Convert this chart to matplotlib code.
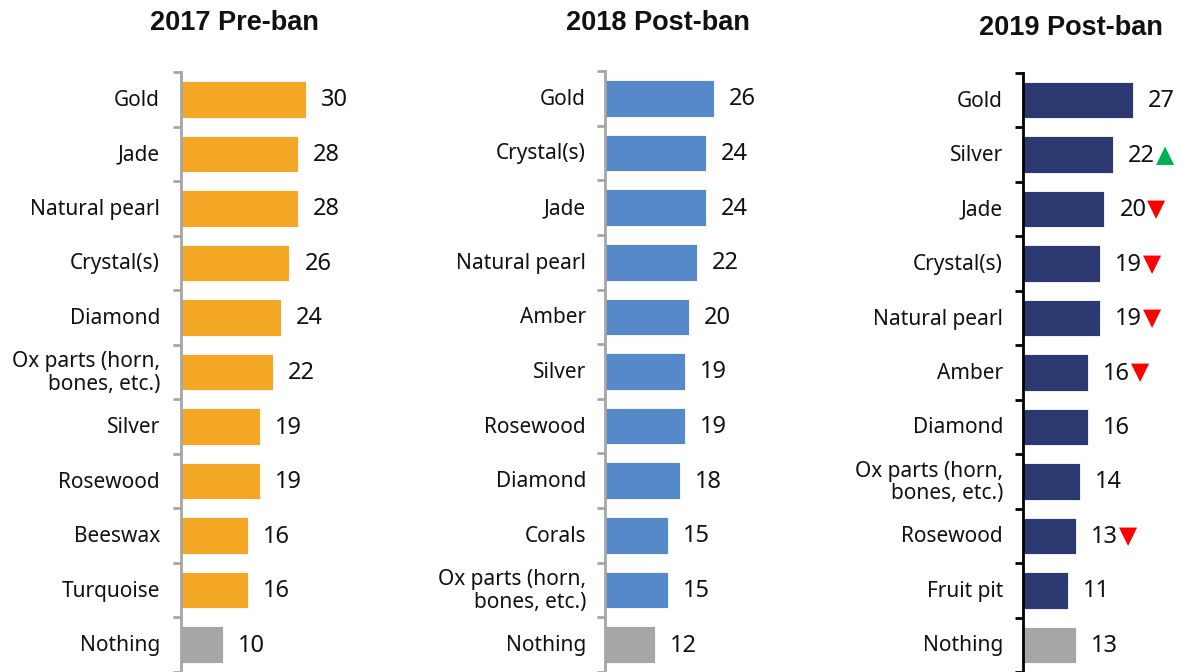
import matplotlib
matplotlib.use("Agg")
import matplotlib.pyplot as plt

plt.rcParams['font.family'] = ['Noto Sans', 'DejaVu Sans']

titles = ["2017 Pre-ban", "2018 Post-ban", "2019 Post-ban"]

cats_2017 = ["Gold", "Jade", "Natural pearl", "Crystal(s)", "Diamond",
             "Ox parts (horn,\nbones, etc.)", "Silver", "Rosewood", "Beeswax",
             "Turquoise", "Nothing"]
vals_2017 = [30, 28, 28, 26, 24, 22, 19, 19, 16, 16, 10]

cats_2018 = ["Gold", "Crystal(s)", "Jade", "Natural pearl", "Amber", "Silver",
             "Rosewood", "Diamond", "Corals", "Ox parts (horn,\nbones, etc.)",
             "Nothing"]
vals_2018 = [26, 24, 24, 22, 20, 19, 19, 18, 15, 15, 12]

cats_2019 = ["Gold", "Silver", "Jade", "Crystal(s)", "Natural pearl", "Amber",
             "Diamond", "Ox parts (horn,\nbones, etc.)", "Rosewood",
             "Fruit pit", "Nothing"]
vals_2019 = [27, 22, 20, 19, 19, 16, 16, 14, 13, 11, 13]
# change vs previous year: 1 up, -1 down, 0 none
trend_2019 = [0, 1, -1, -1, -1, -1, 0, 0, -1, 0, 0]

W, H = 1181, 672
fig = plt.figure(figsize=(W / 100, H / 100), dpi=100)

colors = ["#F4A725", "#5589C9", "#2B3970"]
gray = "#A6A6A6"
spine_colors = ["#A6A6A6", "#A6A6A6", "#000000"]

panels = [
    (cats_2017, vals_2017, None, 181, 72, 4.17, 160, (234, 23)),
    (cats_2018, vals_2018, None, 605, 71, 4.19, 586, (658, 23)),
    (cats_2019, vals_2019, trend_2019, 1023, 73, 4.07, 1003, (1071, 28)),
]

for i, (cats, vals, trend, x0, ytop, pxu, lab_x, tpos) in enumerate(panels):
    xmax = 40
    ax = fig.add_axes([x0 / W, 0, xmax * pxu / W, (H - ytop) / H])
    n = len(cats)
    ypos = list(range(n))
    bar_colors = [colors[i]] * (n - 1) + [gray]
    ax.barh(ypos, vals, height=0.67, color=bar_colors, edgecolor="white",
            linewidth=0.6)
    ax.set_ylim(n - 0.5, -0.5)
    ax.set_xlim(0, xmax)
    for s in ["top", "right", "bottom"]:
        ax.spines[s].set_visible(False)
    ax.spines["left"].set_color(spine_colors[i])
    ax.spines["left"].set_linewidth(2)
    ax.set_xticks([])
    ax.set_yticks([k - 0.5 for k in range(n + 1)])
    ax.set_yticklabels([])
    ax.tick_params(axis="y", length=6, width=2, color=spine_colors[i],
                   direction="out")
    for k, (c, v) in enumerate(zip(cats, vals)):
        ax.annotate(c, xy=(0, k), xytext=(-(x0 - lab_x), -1),
                    textcoords="offset pixels", ha="right", va="center",
                    fontsize=15, color="#111111", linespacing=1.1)
        ax.annotate(str(v), xy=(v, k), xytext=(15, -1),
                    textcoords="offset pixels", ha="left", va="center",
                    fontsize=17, color="#111111")
        if trend is not None and trend[k] != 0:
            mk = "▲" if trend[k] > 0 else "▼"
            col = "#00B050" if trend[k] > 0 else "#FF0000"
            ax.annotate(mk, xy=(v, k), xytext=(43, 0),
                        textcoords="offset pixels", ha="left", va="center",
                        fontsize=17, color=col, family="DejaVu Sans")
    fig.text(tpos[0] / W, 1 - tpos[1] / H, titles[i], ha="center",
             va="center", fontsize=19.5, fontweight="bold", color="#111111",
             family="Liberation Sans")

fig.savefig("out.png", dpi=100)
